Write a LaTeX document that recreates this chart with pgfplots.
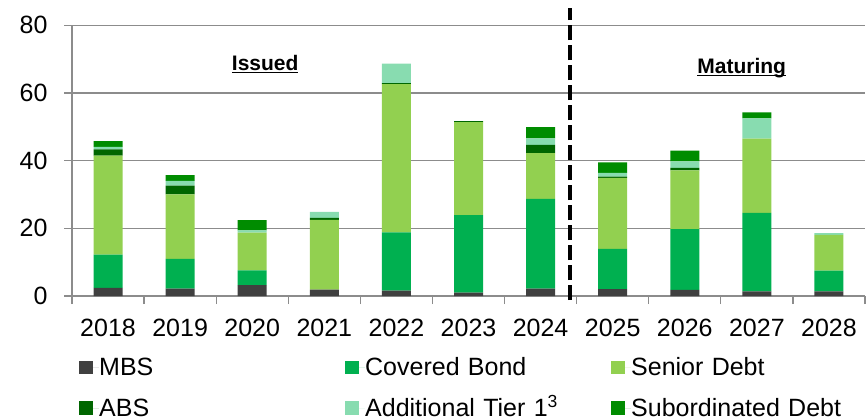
\documentclass[border=0pt]{standalone}
\usepackage{fontspec}
\setmainfont{Liberation Sans}
\usepackage{pgfplots}
\pgfplotsset{compat=1.18}
\definecolor{cMBS}{HTML}{404040}
\definecolor{cCB}{HTML}{00B050}
\definecolor{cSD}{HTML}{92D050}
\definecolor{cABS}{HTML}{006600}
\definecolor{cAT}{HTML}{88DCB0}
\definecolor{cSub}{HTML}{008C00}
\definecolor{gridgray}{HTML}{8C8C8C}
\begin{document}
\begin{tikzpicture}[x=1pt,y=1pt]
\begin{axis}[
  at={(72pt,122pt)}, anchor=south west,
  scale only axis, width=793pt, height=270.7pt,
  ybar stacked, bar width=29pt,
  xmin=-0.5, xmax=10.5, ymin=0, ymax=80,
  xtick={-0.5,0.5,1.5,2.5,3.5,4.5,5.5,6.5,7.5,8.5,9.5,10.5},
  x tick label as interval,
  xticklabels={2018,2019,2020,2021,2022,2023,2024,2025,2026,2027,2028},
  ytick={0,20,40,60,80},
  axis x line*=bottom, axis y line*=left,
  axis line style={draw=gridgray, line width=1.3pt},
  ymajorgrids, grid style={gridgray, line width=1.3pt},
  tick align=outside, major tick length=8pt,
  tick style={gridgray, line width=1.3pt},
  /pgf/number format/assume math mode=true,
  tick label style={font=\fontsize{25}{30}\selectfont, black},
  xticklabel style={yshift=-12pt},
  yticklabel style={xshift=-13pt},
  clip=false,
  legend columns=3,
  legend cell align=left,
  legend style={at={(0.0092,-0.228)}, anchor=north west, draw=none, fill=none,
    inner sep=0pt, outer sep=0pt, row sep=21pt, column sep=0pt,
    font=\fontsize{25}{30}\selectfont,
    nodes={inner sep=0pt, outer sep=0pt},
    /tikz/every even column/.append style={text width=246.1pt,
      text height=18pt, text depth=0pt, align=left}},
  legend image code/.code={\path (0pt,0pt) rectangle (19.9pt,0pt);\fill[#1] (0pt,-6.65pt) rectangle (13.3pt,6.65pt);},
]
\addplot[fill=cMBS, draw=none] coordinates {(0,2.4) (1,2.2) (2,3.2) (3,1.9) (4,1.6) (5,1.0) (6,2.2) (7,2.0) (8,1.8) (9,1.4) (10,1.4)};
\addlegendentry{MBS}
\addplot[fill=cCB, draw=none] coordinates {(0,9.8) (1,8.8) (2,4.4) (3,0) (4,17.2) (5,22.9) (6,26.5) (7,11.9) (8,18.0) (9,23.2) (10,6.1)};
\addlegendentry{Covered Bond}
\addplot[fill=cSD, draw=none] coordinates {(0,29.3) (1,19.0) (2,11.1) (3,20.6) (4,43.8) (5,27.5) (6,13.5) (7,21.0) (8,17.3) (9,21.9) (10,10.6)};
\addlegendentry{Senior Debt}
\addplot[fill=cABS, draw=none] coordinates {(0,1.8) (1,2.6) (2,0) (3,0.6) (4,0.3) (5,0.3) (6,2.5) (7,0.4) (8,0.8) (9,0) (10,0)};
\addlegendentry{ABS}
\addplot[fill=cAT, draw=none] coordinates {(0,0.8) (1,1.4) (2,0.7) (3,1.8) (4,5.8) (5,0) (6,1.9) (7,1.1) (8,1.9) (9,6.0) (10,0.5)};
\addlegendentry{Additional Tier 1\textsuperscript{3}}
\addplot[fill=cSub, draw=none] coordinates {(0,1.7) (1,1.7) (2,3.0) (3,0) (4,0) (5,0) (6,3.3) (7,3.1) (8,3.2) (9,1.8) (10,0)};
\addlegendentry{Subordinated Debt}
\draw[black, line width=4pt, dash pattern=on 15pt off 5pt] (axis cs:6.41,-1.2) -- (axis cs:6.41,85);
\node[anchor=base, font=\fontsize{21}{25}\selectfont\bfseries] at (axis cs:2.18,66.5) {\underline{\smash{Issued}}};
\node[anchor=base, font=\fontsize{21}{25}\selectfont\bfseries] at (axis cs:8.79,65.8) {\underline{\smash{Maturing}}};
\end{axis}
\pgfresetboundingbox
\useasboundingbox (0,0) rectangle (866,418);
\end{tikzpicture}
\end{document}
